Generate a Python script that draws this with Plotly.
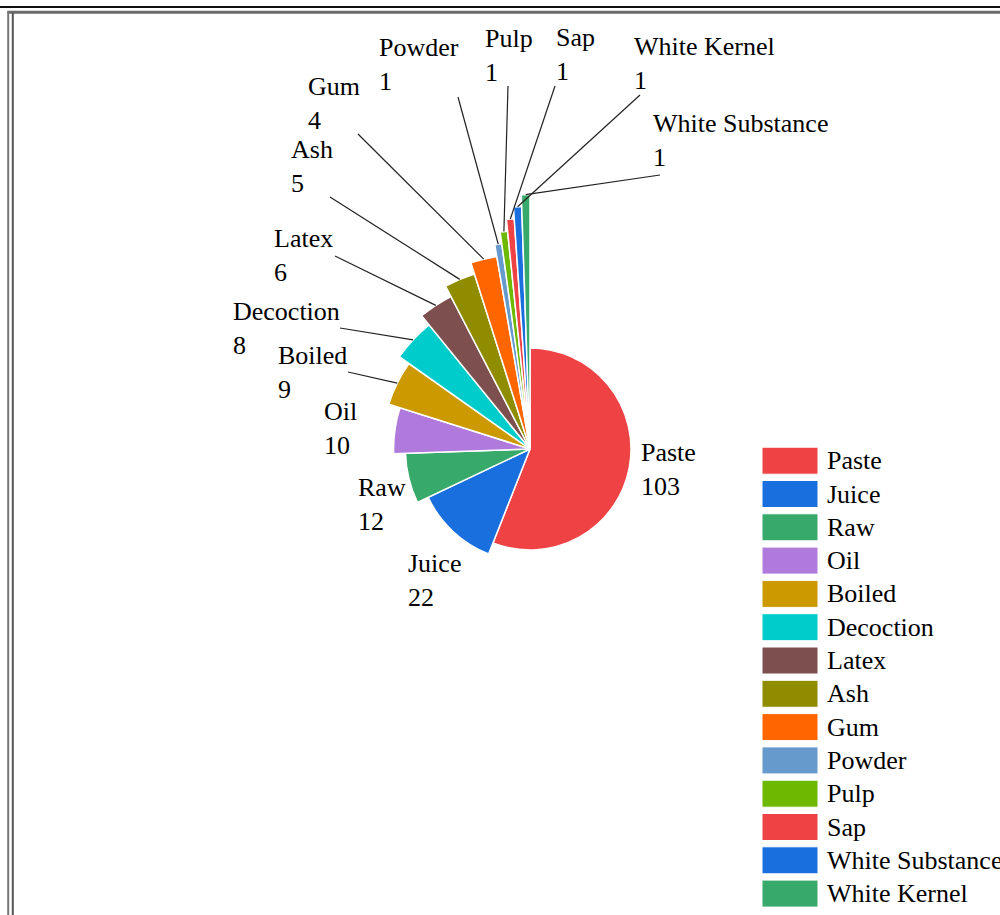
import math
import plotly.graph_objects as go

# Forms of preparation and number of recorded uses
categories = ["Paste", "Juice", "Raw", "Oil", "Boiled", "Decoction", "Latex", "Ash",
              "Gum", "Powder", "Pulp", "Sap", "White Substance", "White Kernel"]
values = [103, 22, 12, 10, 9, 8, 6, 5, 4, 1, 1, 1, 1, 1]
colors = ["#EF4245", "#1A6FDF", "#37A96B", "#B07ADC", "#CC9900", "#00CCCC", "#7E4F4F",
          "#8F8C00", "#FF6600", "#6699CC", "#6DB800", "#EF4245", "#1A6FDF", "#37A96B"]

# Data-label text as it appears next to each slice, with the slice its leader line points to
label_names = ["Paste", "Juice", "Raw", "Oil", "Boiled", "Decoction", "Latex", "Ash",
               "Gum", "Powder", "Pulp", "Sap", "White Kernel", "White Substance"]
label_values = [103, 22, 12, 10, 9, 8, 6, 5, 4, 1, 1, 1, 1, 1]
label_target = [0, 1, 2, 3, 4, 5, 6, 7, 8, 9, 10, 11, 12, 13]

W, H = 1000, 915
CX, CY = 530, 449          # pie centre in pixels
R_PX = 449                 # polar drawing radius in pixels (1 radial unit = 1 px)
R0, STEP = 101, 11.8       # radius of the first slice and growth per slice
FONT = "Liberation Serif, Times New Roman, serif"
FSIZE = 26

# label placement: (left x, vertical middle of the two-line block, leader start or None)
label_layout = [
    (639, 469.5, None), (406, 580.5, None), (356, 504, None), (322, 428.5, None),
    (276, 373, (348, 372)), (231, 328.5, (340, 328)), (272, 255.5, (335, 256)),
    (289, 166.5, (330, 197)), (306, 103.5, (358, 134)), (377, 65, (458, 97)),
    (483, 56, (508, 86)), (554, 54, (555, 86)), (632, 64, (640, 95)),
    (651, 140.5, (660, 175)),
]

total = sum(values)
thetas, widths, radii = [], [], []
cum = 0
for i, v in enumerate(values):
    thetas.append((cum + v / 2) / total * 360)
    widths.append(v / total * 360)
    radii.append(R0 + STEP * i)
    cum += v

fig = go.Figure()
fig.add_trace(go.Barpolar(
    r=radii, theta=thetas, width=widths,
    marker=dict(color=colors, line=dict(color="white", width=1.5)),
    text=categories, hoverinfo="text+r", showlegend=False,
))


def px_to_polar(px, py):
    dx, dy = px - CX, CY - py
    return math.hypot(dx, dy), math.degrees(math.atan2(dx, dy)) % 360


annotations = []
for name, val, tgt, (lx, ly, start) in zip(label_names, label_values, label_target, label_layout):
    annotations.append(dict(
        x=lx / W, y=1 - ly / H, xref="paper", yref="paper",
        xanchor="left", yanchor="middle", align="left", showarrow=False,
        text=f"{name}<br>{val}", font=dict(family=FONT, size=FSIZE, color="#000"),
    ))
    if start is not None:
        rs, ts = px_to_polar(*start)
        fig.add_trace(go.Scatterpolar(
            r=[rs, radii[tgt]], theta=[ts, thetas[tgt]], mode="lines",
            line=dict(color="#222", width=1.2), hoverinfo="skip", showlegend=False,
        ))

# legend: colour swatch plus category name per row
shapes = []
LEG_X, LEG_Y0, LEG_DY = 762, 460.7, 33.3
for i, (name, col) in enumerate(zip(categories, colors)):
    yc = LEG_Y0 + i * LEG_DY
    shapes.append(dict(type="rect", xref="paper", yref="paper",
                       x0=LEG_X / W, x1=(LEG_X + 56) / W,
                       y0=1 - (yc - 13.5) / H, y1=1 - (yc + 13.5) / H,
                       fillcolor=col, line=dict(color="white", width=1)))
    annotations.append(dict(
        x=(LEG_X + 63) / W, y=1 - yc / H, xref="paper", yref="paper",
        xanchor="left", yanchor="middle", showarrow=False, text=name,
        font=dict(family=FONT, size=FSIZE, color="#000"),
    ))

# page frame lines
def hline(y, x0, x1, color, width):
    return dict(type="line", xref="paper", yref="paper", x0=x0 / W, x1=x1 / W,
                y0=1 - y / H, y1=1 - y / H, line=dict(color=color, width=width))


def vline(x, y0, y1, color, width):
    return dict(type="line", xref="paper", yref="paper", x0=x / W, x1=x / W,
                y0=1 - y0 / H, y1=1 - y1 / H, line=dict(color=color, width=width))


shapes += [
    hline(7, 0, 1000, "#111", 2),
    hline(12.3, 7.5, 1000, "#6a6a6a", 3),
    vline(8.2, 11, 915, "#777", 2),
    vline(12.8, 13, 915, "#555", 2),
]

fig.update_layout(
    width=W, height=H, margin=dict(l=0, r=0, t=0, b=0),
    paper_bgcolor="white", plot_bgcolor="white",
    polar=dict(
        domain=dict(x=[(CX - R_PX) / W, (CX + R_PX) / W],
                    y=[1 - (CY + R_PX) / H, 1 - (CY - R_PX) / H]),
        bgcolor="rgba(0,0,0,0)",
        radialaxis=dict(visible=False, range=[0, R_PX]),
        angularaxis=dict(visible=False, rotation=90, direction="clockwise"),
    ),
    annotations=annotations, shapes=shapes, showlegend=False,
)

fig.write_html("out.html")
